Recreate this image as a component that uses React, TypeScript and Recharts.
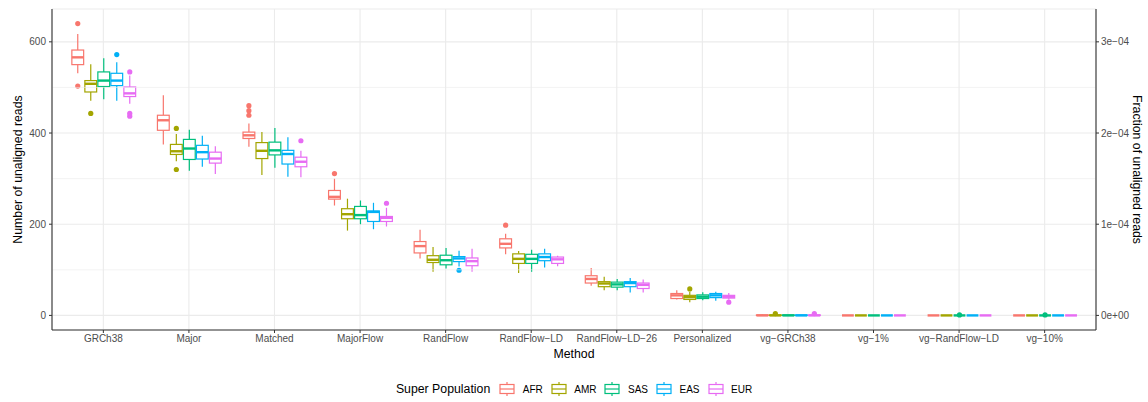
import { Bar, CartesianGrid, ComposedChart, Label, ReferenceLine, XAxis, YAxis } from 'recharts';

const methods = [
  'GRCh38', 'Major', 'Matched', 'MajorFlow', 'RandFlow', 'RandFlow-LD',
  'RandFlow-LD-26', 'Personalized', 'vg-GRCh38', 'vg-1%', 'vg-RandFlow-LD', 'vg-10%',
];
const populations = ['AFR', 'AMR', 'SAS', 'EAS', 'EUR'];
const popColors = ['#F8766D', '#A3A500', '#00BF7D', '#00B0F6', '#E76BF3'];

// per method: [lower whisker, Q1, median, Q3, upper whisker]
const afrBoxes = [
  [531, 550, 566, 582, 617], [375, 406, 428, 439, 483], [370, 388, 395, 402, 421],
  [241, 255, 260, 274, 300], [125, 137, 152, 162, 188], [134, 148, 157, 168, 179],
  [65, 71, 80, 87, 104], [35, 37, 44, 48, 55], [0, 0, 0, 1, 2],
  [0, 0, 0, 0, 0], [0, 0, 0, 0, 0], [0, 0, 0, 0, 0],
];
const amrBoxes = [
  [471, 490, 508, 515, 551], [338, 353, 360, 375, 398], [308, 344, 361, 379, 402],
  [186, 212, 222, 234, 256], [96, 116, 122, 131, 150], [93, 114, 124, 135, 141],
  [55, 63, 70, 74, 85], [29, 35, 40, 44, 52], [0, 0, 0, 1, 2],
  [0, 0, 0, 0, 0], [0, 0, 0, 0, 0], [0, 0, 0, 0, 0],
];
const sasBoxes = [
  [474, 502, 515, 534, 564], [317, 342, 366, 386, 407], [324, 352, 362, 380, 411],
  [200, 212, 220, 239, 252], [103, 111, 121, 132, 148], [96, 114, 124, 134, 144],
  [55, 62, 68, 73, 80], [33, 37, 41, 45, 51], [0, 0, 0, 1, 1],
  [0, 0, 0, 0, 0], [0, 0, 0, 0, 0], [0, 0, 0, 0, 0],
];
const easBoxes = [
  [471, 504, 515, 531, 555], [326, 343, 358, 373, 394], [304, 332, 354, 362, 391],
  [189, 206, 227, 229, 247], [107, 118, 125, 129, 142], [105, 120, 128, 135, 146],
  [50, 63, 71, 74, 82], [32, 39, 44, 48, 52], [0, 0, 0, 1, 1],
  [0, 0, 0, 0, 0], [0, 0, 0, 0, 0], [0, 0, 0, 0, 0],
];
const eurBoxes = [
  [464, 480, 487, 501, 526], [310, 334, 344, 358, 371], [303, 326, 337, 347, 361],
  [195, 206, 214, 217, 236], [96, 109, 119, 126, 146], [108, 114, 123, 128, 131],
  [50, 59, 67, 71, 79], [35, 38, 41, 44, 49], [0, 0, 0, 1, 1],
  [0, 0, 0, 0, 0], [0, 0, 0, 0, 0], [0, 0, 0, 0, 0],
];

// outlying samples per method
const afrOutliers = [[503, 640], [], [439, 449, 460], [311], [], [198], [], [], [], [], [], []];
const amrOutliers = [[443], [320, 410], [], [], [], [], [], [58], [4], [], [], []];
const sasOutliers = [[], [], [], [], [], [], [], [], [], [], [1], [1]];
const easOutliers = [[572], [], [], [], [99], [], [], [], [], [], [], []];
const eurOutliers = [[437, 443, 534], [], [383], [246], [], [], [], [29], [4], [], [], []];

const readTicks = [0, 200, 400, 600];
const minorReadTicks = [100, 300, 500];
const readDomain = [-32, 672];
const fractionTicks = [0, 1e-4, 2e-4, 3e-4];
const totalReads = 2e6;

const boxesByPop: Record<string, number[][]> = {
  AFR: afrBoxes, AMR: amrBoxes, SAS: sasBoxes, EAS: easBoxes, EUR: eurBoxes,
};
const outliersByPop: Record<string, number[][]> = {
  AFR: afrOutliers, AMR: amrOutliers, SAS: sasOutliers, EAS: easOutliers, EUR: eurOutliers,
};

const rows = methods.map((method, i) => {
  const row: any = { method };
  populations.forEach((pop) => {
    const [lo, q1, med, q3, hi] = boxesByPop[pop][i];
    const out = outliersByPop[pop][i];
    row[pop] = { lo, q1, med, q3, hi, out, range: [Math.min(lo, ...out), Math.max(hi, ...out)] };
  });
  return row;
});

const FONT = '"Liberation Sans", Arial, Helvetica, sans-serif';
const minusSign = (s: string) => s.replace(/-/g, '\u2212');

function sciLabel(v: number) {
  if (v === 0) return '0e+00';
  const exp = Math.floor(Math.log10(Math.abs(v)) + 1e-9);
  const mant = Math.round(v / Math.pow(10, exp));
  const sign = exp < 0 ? '\u2212' : '+';
  return `${mant}e${sign}${String(Math.abs(exp)).padStart(2, '0')}`;
}

function BoxGlyph(props: any) {
  const { x, y, width, height, payload, pop, color } = props;
  const s = payload[pop];
  const [lo, hi] = s.range;
  const top = Math.min(y, y + height);
  const h = Math.abs(height);
  // map a read count onto the bar's own pixel span
  const py = (v: number) => (hi === lo ? top : top + (h * (hi - v)) / (hi - lo));
  const cx = x + width / 2;
  const bx = x + 0.6;
  const bw = width - 1.2;
  return (
    <g>
      <line x1={cx} x2={cx} y1={py(s.hi)} y2={py(s.q3)} stroke={color} strokeWidth={1.2} />
      <line x1={cx} x2={cx} y1={py(s.q1)} y2={py(s.lo)} stroke={color} strokeWidth={1.2} />
      <rect x={bx} y={py(s.q3)} width={bw} height={py(s.q1) - py(s.q3)} fill="#ffffff" stroke={color} strokeWidth={1.2} />
      <line x1={bx} x2={bx + bw} y1={py(s.med)} y2={py(s.med)} stroke={color} strokeWidth={2.4} />
      {s.out.map((v: number, k: number) => (
        <circle key={k} cx={cx} cy={py(v)} r={2.6} fill={color} />
      ))}
    </g>
  );
}

function LegendKey({ color }: { color: string }) {
  return (
    <svg width={16} height={16} style={{ display: 'block' }}>
      <line x1={8} x2={8} y1={1} y2={15} stroke={color} strokeWidth={1.2} />
      <rect x={1} y={3.5} width={14} height={9} fill="#ffffff" stroke={color} strokeWidth={1.2} />
      <line x1={1} x2={15} y1={8} y2={8} stroke={color} strokeWidth={1.2} />
    </svg>
  );
}

export default function App() {
  return (
    <div style={{ position: 'absolute', left: 0, top: 0, width: 1148, height: 402, background: '#ffffff', fontFamily: FONT }}>
      <ComposedChart
        width={1148}
        height={402}
        data={rows}
        margin={{ top: 9, right: 8, bottom: 42, left: 8 }}
        barCategoryGap="12.5%"
        barGap={0}
      >
        <CartesianGrid xAxisId="bottom" yAxisId="left" stroke="#EBEBEB" strokeWidth={1.1} />
        {minorReadTicks.map((v) => (
          <ReferenceLine key={v} xAxisId="bottom" yAxisId="left" y={v} stroke="#EBEBEB" strokeWidth={0.6} />
        ))}
        <XAxis
          xAxisId="bottom"
          dataKey="method"
          type="category"
          interval={0}
          padding={{ left: 8.56, right: 8.56 }}
          height={30}
          tickSize={3}
          tickMargin={2}
          tickFormatter={minusSign}
          tick={{ fontSize: 10, fill: '#4D4D4D' }}
          axisLine={{ stroke: '#333333', strokeWidth: 1.1 }}
          tickLine={{ stroke: '#333333' }}
        >
          <Label value="Method" position="insideBottom" offset={2} style={{ fontSize: 12.3, fill: '#000000' }} />
        </XAxis>
        <XAxis
          xAxisId="top"
          dataKey="method"
          orientation="top"
          height={0}
          tick={false}
          tickLine={false}
          axisLine={{ stroke: '#333333', strokeWidth: 1.1 }}
        />
        <YAxis
          yAxisId="left"
          type="number"
          domain={readDomain}
          ticks={readTicks}
          allowDataOverflow
          width={44}
          tickSize={3}
          tickMargin={3}
          tick={{ fontSize: 10, fill: '#4D4D4D' }}
          axisLine={{ stroke: '#333333', strokeWidth: 1.1 }}
          tickLine={{ stroke: '#333333' }}
        >
          <Label value="Number of unaligned reads" angle={-90} position="center" dx={-12.7} style={{ fontSize: 12.3, fill: '#000000', textAnchor: 'middle' }} />
        </YAxis>
        <YAxis
          yAxisId="right"
          orientation="right"
          type="number"
          domain={[readDomain[0] / totalReads, readDomain[1] / totalReads]}
          ticks={fractionTicks}
          allowDataOverflow
          width={44}
          tickSize={3}
          tickMargin={2}
          tickFormatter={sciLabel}
          tick={{ fontSize: 10, fill: '#4D4D4D' }}
          axisLine={{ stroke: '#333333', strokeWidth: 1.1 }}
          tickLine={{ stroke: '#333333' }}
        >
          <Label value="Fraction of unaligned reads" angle={90} position="center" dx={19} style={{ fontSize: 12.3, fill: '#000000', textAnchor: 'middle' }} />
        </YAxis>
        {populations.map((pop, i) => (
          <Bar
            key={pop}
            xAxisId="bottom"
            yAxisId="left"
            dataKey={(row: any) => row[pop].range}
            name={pop}
            isAnimationActive={false}
            shape={(p: any) => <BoxGlyph {...p} pop={pop} color={popColors[i]} />}
          />
        ))}
      </ComposedChart>
      <div
        style={{
          position: 'absolute',
          left: 0,
          top: 381,
          width: 1148,
          display: 'flex',
          justifyContent: 'center',
          alignItems: 'center',
          fontSize: 10,
          color: '#000000',
        }}
      >
        <span style={{ fontSize: 12.3, marginRight: 9 }}>Super Population</span>
        {populations.map((pop, i) => (
          <div key={pop} style={{ display: 'flex', alignItems: 'center', marginRight: i < populations.length - 1 ? 8 : 0 }}>
            <LegendKey color={popColors[i]} />
            <span style={{ marginLeft: 7.5 }}>{pop}</span>
          </div>
        ))}
      </div>
    </div>
  );
}
